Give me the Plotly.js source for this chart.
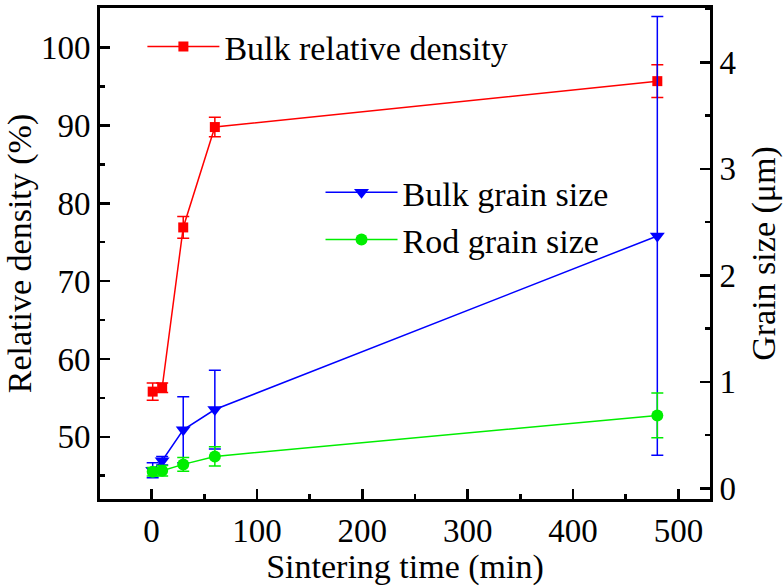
<!DOCTYPE html>
<html><head><meta charset="utf-8">
<script src="https://cdn.plot.ly/plotly-3.0.1.min.js"></script>
<style>
html,body{margin:0;padding:0;background:#fff}
svg text{font-family:'Liberation Serif','Times New Roman',serif !important}
</style>
</head><body>
<div id="chart" style="width:783px;height:586px"></div>
<script>
// Sintering time (min)
const timeDensity = [1, 10, 30, 60, 480];
const bulkDensity = [55.8, 56.3, 76.9, 89.8, 95.7];       // %
const bulkDensityErr = [1.1, 0.6, 1.4, 1.25, 2.1];

const timeGrain = [1, 10, 30, 60, 480];
const bulkGrain = [0.17, 0.26, 0.55, 0.74, 2.37];          // µm
const bulkGrainErr = [0.07, 0.04, 0.31, 0.37, 2.06];
const rodGrain = [0.155, 0.165, 0.225, 0.30, 0.685];       // µm
const rodGrainErr = [0.04, 0.05, 0.065, 0.09, 0.21];

const xTicks = [0, 100, 200, 300, 400, 500];

const FONT = 'Liberation Serif';

const traces = [
  {
    x: timeDensity, y: bulkDensity, name: 'Bulk relative density',
    type: 'scatter', mode: 'lines+markers', yaxis: 'y', legend: 'legend',
    line: {color: '#ff0000', width: 1.5},
    marker: {symbol: 'square', size: 10, color: '#ff0000'},
    error_y: {type: 'data', array: bulkDensityErr, visible: true, color: '#ff0000', thickness: 1.5, width: 6}
  },
  {
    x: timeGrain, y: bulkGrain, name: 'Bulk grain size',
    type: 'scatter', mode: 'lines+markers', yaxis: 'y2', legend: 'legend2',
    line: {color: '#0000ff', width: 1.5},
    marker: {symbol: 'triangle-down', size: 13, color: '#0000ff'},
    error_y: {type: 'data', array: bulkGrainErr, visible: true, color: '#0000ff', thickness: 1.5, width: 6}
  },
  {
    x: timeGrain, y: rodGrain, name: 'Rod grain size',
    type: 'scatter', mode: 'lines+markers', yaxis: 'y2', legend: 'legend2',
    line: {color: '#00ee00', width: 1.5},
    marker: {symbol: 'circle', size: 12, color: '#00ee00'},
    error_y: {type: 'data', array: rodGrainErr, visible: true, color: '#00ee00', thickness: 1.5, width: 6}
  }
];

function tf(size) { return {family: FONT, size: size}; }

function axisBase() {
  return {
    showgrid: false, zeroline: false, showline: true, linecolor: '#000', linewidth: 3,
    ticks: 'inside', ticklen: 10, tickwidth: 2.5, tickcolor: '#000',
    tickfont: tf(33)
  };
}

const layout = {
  width: 783, height: 586,
  margin: {l: 100, r: 73, t: 8, b: 87},
  paper_bgcolor: '#fff', plot_bgcolor: '#fff',
  font: {family: FONT, color: '#000', size: 33},
  showlegend: true,
  xaxis: Object.assign(axisBase(), {
    range: [-49, 530], tickvals: xTicks, mirror: true,
    minor: {dtick: 50, tick0: 0, ticks: 'inside', ticklen: 5, tickwidth: 2.5, tickcolor: '#000'},
    title: {text: 'Sintering time (min)', font: tf(34), standoff: 6}
  }),
  yaxis: Object.assign(axisBase(), {
    range: [42, 105.1], dtick: 10, tick0: 0,
    minor: {dtick: 5, tick0: 0, ticks: 'inside', ticklen: 5, tickwidth: 2.5, tickcolor: '#000'},
    title: {text: 'Relative density (%)', font: tf(34), standoff: 0}
  }),
  yaxis2: Object.assign(axisBase(), {
    overlaying: 'y', side: 'right', anchor: 'x',
    range: [-0.1, 4.51], dtick: 1, tick0: 0,
    minor: {dtick: 0.5, tick0: 0, ticks: 'inside', ticklen: 5, tickwidth: 2.5, tickcolor: '#000'},
    title: {text: 'Grain size (μm)', font: tf(34), standoff: 20}
  }),
  legend: {
    x: 0.0695, y: 0.98, xanchor: 'left', yanchor: 'top',
    bgcolor: 'rgba(0,0,0,0)', borderwidth: 0, itemwidth: 72,
    font: tf(34)
  },
  legend2: {
    x: 0.3615, y: 0.683, xanchor: 'left', yanchor: 'top',
    bgcolor: 'rgba(0,0,0,0)', borderwidth: 0, itemwidth: 72,
    font: tf(34)
  }
};

Plotly.newPlot('chart', traces, layout, {displayModeBar: false, staticPlot: true});
</script>
</body></html>
